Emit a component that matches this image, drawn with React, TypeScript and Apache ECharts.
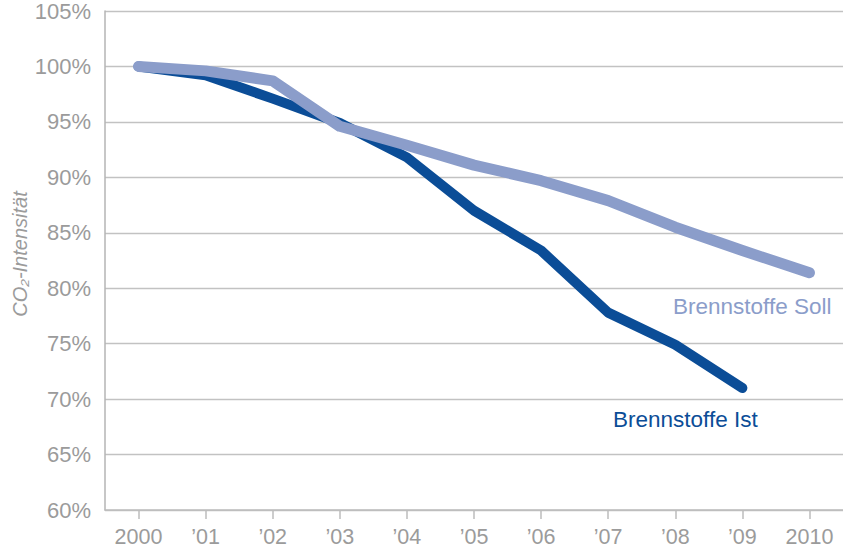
import React, { useEffect, useRef } from "react";
import * as echarts from "echarts";

const years = ["2000", "’01", "’02", "’03", "’04", "’05", "’06", "’07", "’08", "’09", "2010"];
const istValues = [100, 99.2, 97.1, 94.9, 91.8, 87.0, 83.4, 77.8, 74.9, 71.0, null];
const sollValues = [100, 99.6, 98.7, 94.6, 92.9, 91.1, 89.7, 87.9, 85.5, 83.4, 81.4];
const yMin = 60;
const yMax = 105;
const yStep = 5;

const GRAY = "#9b9b9b";
const IST = "#0b4d97";
const SOLL = "#8b9dca";

export default function App() {
  const ref = useRef<HTMLDivElement>(null);
  useEffect(() => {
    if (!ref.current) return;
    const chart = echarts.init(ref.current, null, { renderer: "svg" });
    chart.setOption({
      animation: false,
      backgroundColor: "#ffffff",
      grid: { left: 105, top: 10, height: 500, width: 749, containLabel: false },
      xAxis: {
        type: "category",
        data: years,
        boundaryGap: true,
        axisLine: { show: true, lineStyle: { color: "#bdbdbd", width: 1.5 } },
        axisTick: { show: true, alignWithLabel: true, length: 9, lineStyle: { color: "#bdbdbd", width: 1.5 } },
        axisLabel: {
          color: GRAY,
          fontSize: 21.5,
          fontFamily: "Liberation Sans, Arial, sans-serif",
          margin: 16,
          interval: 0,
        },
        splitLine: { show: false },
      },
      yAxis: {
        type: "value",
        min: yMin,
        max: yMax,
        interval: yStep,
        axisLine: { show: true, lineStyle: { color: "#b5b5b5", width: 1.5 } },
        axisTick: { show: false },
        axisLabel: {
          color: GRAY,
          fontSize: 22,
          fontFamily: "Liberation Sans, Arial, sans-serif",
          margin: 14,
          formatter: "{value}%",
        },
        splitLine: { show: true, lineStyle: { color: "#c2c2c2", width: 1.3 } },
      },
      series: [
        {
          name: "Brennstoffe Ist",
          type: "line",
          data: istValues,
          symbol: "none",
          lineStyle: { color: IST, width: 10, cap: "round", join: "round" },
          z: 2,
        },
        {
          name: "Brennstoffe Soll",
          type: "line",
          data: sollValues,
          symbol: "none",
          lineStyle: { color: SOLL, width: 11, cap: "round", join: "round" },
          z: 3,
        },
      ],
      graphic: [
        {
          type: "text",
          x: 673,
          y: 306,
          style: {
            text: "Brennstoffe Soll",
            fill: SOLL,
            fontSize: 22.5,
            fontFamily: "Liberation Sans, Arial, sans-serif",
            align: "left",
            verticalAlign: "middle",
          },
        },
        {
          type: "text",
          x: 613,
          y: 419,
          style: {
            text: "Brennstoffe Ist",
            fill: IST,
            fontSize: 22.5,
            fontFamily: "Liberation Sans, Arial, sans-serif",
            align: "left",
            verticalAlign: "middle",
          },
        },
        {
          type: "text",
          x: 20,
          y: 254,
          rotation: Math.PI / 2,
          style: {
            text: "CO₂-Intensität",
            fill: GRAY,
            fontSize: 20,
            fontStyle: "italic",
            fontFamily: "Liberation Sans, Arial, sans-serif",
            align: "center",
            verticalAlign: "middle",
          },
        },
      ],
    });
    return () => chart.dispose();
  }, []);
  return (
    <div
      ref={ref}
      style={{ position: "fixed", left: 0, top: 0, width: 843, height: 549, background: "#fff" }}
    />
  );
}
